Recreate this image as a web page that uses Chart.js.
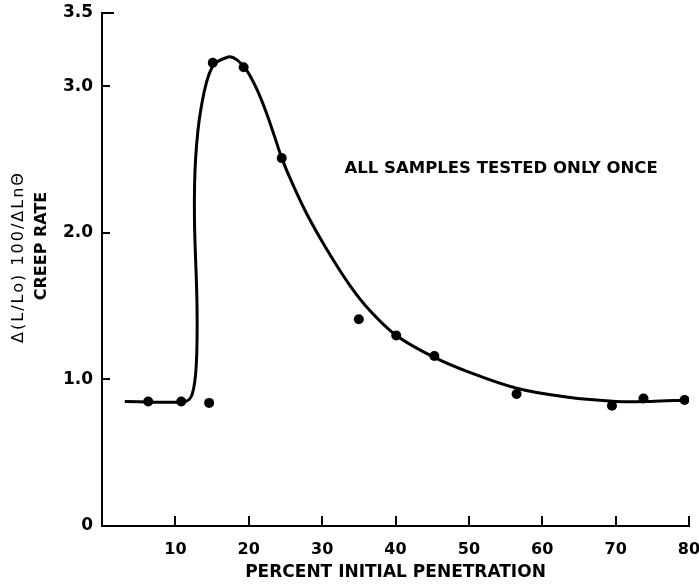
<!DOCTYPE html>
<html>
<head>
<meta charset="utf-8">
<script src="https://cdn.jsdelivr.net/npm/chart.js@4.4.1/dist/chart.umd.min.js"></script>
<style>
  html, body { margin: 0; padding: 0; background: #fff; }
  #wrap { width: 699px; height: 586px; }
</style>
</head>
<body>
<div id="wrap"><canvas id="chart" width="699" height="586"></canvas></div>
<script>
// measured samples
const pointX = [6.3, 10.8, 14.6, 15.1, 19.3, 24.5, 35.0, 40.1, 45.3, 56.5, 69.5, 73.8, 79.4];
const pointY = [0.85, 0.85, 0.84, 3.16, 3.13, 2.51, 1.41, 1.30, 1.16, 0.90, 0.82, 0.87, 0.86];

// hand drawn fit curve
const curveX = [3.1, 11.3, 12.3, 12.85, 12.95, 12.6, 12.75, 13.5, 15.0, 17.2, 18.4, 19.7, 21.1, 22.4, 23.5, 24.5, 26.0, 28.0, 30.6, 33.8, 36.5, 40.1, 45.3, 50.0, 56.5, 63.3, 70.1, 74.7, 79.7];
const curveY = [0.85, 0.85, 0.9, 1.1, 1.5, 2.1, 2.5, 2.85, 3.13, 3.2, 3.18, 3.11, 2.98, 2.82, 2.66, 2.51, 2.33, 2.12, 1.89, 1.64, 1.47, 1.30, 1.15, 1.05, 0.94, 0.88, 0.85, 0.85, 0.86];

const xTicks = [10, 20, 30, 40, 50, 60, 70, 80];
const yTicks = [0, 1.0, 2.0, 3.0, 3.5];

const xTitle = "PERCENT INITIAL PENETRATION";
const yTitle1 = "\u0394(L/Lo) 100/\u0394Ln\u0398";
const yTitle2 = "CREEP RATE";
const note = "ALL SAMPLES TESTED ONLY ONCE";
const noteAt = { x: 54.4, y: 2.44 };

const face = "'DejaVu Sans', sans-serif";

// inward ticks, rotated y title and the note
const extras = {
  id: "extras",
  afterDraw(chart) {
    const ctx = chart.ctx;
    const xs = chart.scales.x, ys = chart.scales.y;
    const left = chart.chartArea.left, bottom = chart.chartArea.bottom;
    ctx.save();
    ctx.strokeStyle = "#000";
    ctx.lineWidth = 2;
    yTicks.forEach(v => {
      if (v === 0) return;
      const py = Math.round(ys.getPixelForValue(v));
      const len = v === 3.5 ? 12 : 8;
      ctx.beginPath();
      ctx.moveTo(left, py);
      ctx.lineTo(left + len, py);
      ctx.stroke();
    });
    xTicks.forEach(v => {
      const px = Math.round(xs.getPixelForValue(v));
      ctx.beginPath();
      ctx.moveTo(px, bottom);
      ctx.lineTo(px, bottom - 10);
      ctx.stroke();
    });

    ctx.fillStyle = "#000";
    ctx.textAlign = "center";
    ctx.textBaseline = "middle";

    ctx.save();
    ctx.translate(19, 257);
    ctx.rotate(-Math.PI / 2);
    ctx.font = "16px " + face;
    ctx.letterSpacing = "2px";
    ctx.fillText(yTitle1, 0, 0);
    ctx.restore();

    ctx.save();
    ctx.translate(42, 246);
    ctx.rotate(-Math.PI / 2);
    ctx.font = "bold 16px " + face;
    ctx.fillText(yTitle2, 0, 0);
    ctx.restore();

    ctx.font = "bold 16.5px " + face;
    ctx.fillText(note, xs.getPixelForValue(noteAt.x), ys.getPixelForValue(noteAt.y));
    ctx.restore();
  }
};

new Chart(document.getElementById("chart").getContext("2d"), {
  type: "line",
  data: {
    datasets: [
      {
        data: curveX.map((x, i) => ({ x: x, y: curveY[i] })),
        borderColor: "#000",
        borderWidth: 3,
        pointRadius: 0,
        tension: 0.35,
        fill: false
      },
      {
        data: pointX.map((x, i) => ({ x: x, y: pointY[i] })),
        showLine: false,
        pointRadius: 5,
        pointBackgroundColor: "#000",
        pointBorderColor: "#000",
        pointBorderWidth: 0
      }
    ]
  },
  options: {
    responsive: false,
    devicePixelRatio: 1,
    animation: false,
    layout: { padding: { left: 0, top: 13, right: 10, bottom: 0 } },
    plugins: { legend: { display: false }, tooltip: { enabled: false } },
    scales: {
      x: {
        type: "linear",
        min: 0,
        max: 80,
        afterBuildTicks: s => { s.ticks = xTicks.map(v => ({ value: v })); },
        afterFit: s => { s.height = 60; s.paddingLeft = 0; s.paddingRight = 0; },
        grid: { display: false, drawTicks: false },
        border: { display: true, color: "#000", width: 2 },
        ticks: { color: "#000", padding: 14, maxRotation: 0, font: { family: face, size: 16, weight: "bold" } },
        title: { display: true, text: xTitle, color: "#000", padding: { top: 0, bottom: 3 }, font: { family: face, size: 17, weight: "bold" } }
      },
      y: {
        type: "linear",
        min: 0,
        max: 3.5,
        afterBuildTicks: s => { s.ticks = yTicks.map(v => ({ value: v })); },
        afterFit: s => { s.width = 102; s.paddingTop = 0; s.paddingBottom = 0; },
        grid: { display: false, drawTicks: false },
        border: { display: true, color: "#000", width: 2 },
        ticks: {
          color: "#000",
          padding: 9,
          font: { family: face, size: 17, weight: "bold" },
          callback: v => v === 0 ? "0" : v.toFixed(1)
        }
      }
    }
  },
  plugins: [extras]
});
</script>
</body>
</html>
